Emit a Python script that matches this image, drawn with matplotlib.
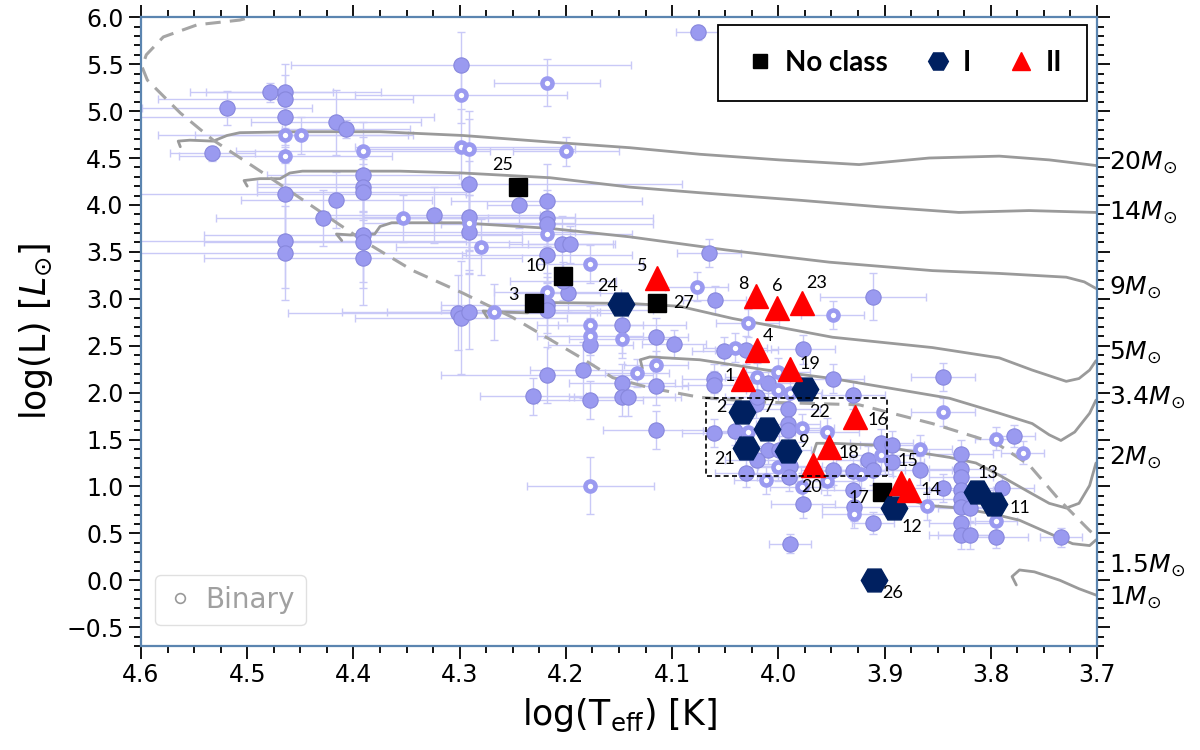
import matplotlib
matplotlib.use("Agg")
import matplotlib.pyplot as plt
from matplotlib.lines import Line2D
from matplotlib.patches import Rectangle
from matplotlib.ticker import MultipleLocator
import numpy as np

# ---------------- data ----------------
# background sample: filled circles (logTeff, logL, xerr, yerr)
single_logT = [4.299, 4.479, 4.464, 4.464, 4.519, 4.464, 4.416, 4.407, 4.533, 4.391,
               4.391, 4.391, 4.464, 4.416, 4.291, 4.244, 4.218, 4.429, 4.324, 4.291,
               4.291, 4.218, 4.218, 4.464, 4.464, 4.391, 4.391, 4.391, 4.204, 4.196,
               4.218, 4.198, 4.203, 4.302, 4.299, 4.291, 4.218, 4.218, 4.147, 4.177,
               4.218, 4.184, 4.231, 4.177, 4.147, 4.147, 4.142, 4.076, 4.065, 4.060,
               3.911, 4.115, 4.098, 4.051, 4.030, 3.977, 4.115, 4.061, 4.061, 4.010,
               3.949, 3.845, 4.115, 4.061, 4.041, 4.021, 4.020, 3.991, 3.991, 3.991,
               3.930, 4.010, 3.999, 4.020, 4.030, 3.989, 3.990, 3.949, 3.916, 3.903,
               3.893, 3.911, 3.930, 3.893, 3.867, 3.828, 3.828, 3.828, 3.845, 3.828,
               3.828, 3.828, 3.820, 3.778, 3.789, 3.795, 3.828, 3.828, 3.820, 3.734,
               3.930, 3.929, 3.911, 3.977, 3.989]
single_logL = [5.49, 5.20, 5.20, 5.13, 5.03, 4.94, 4.88, 4.81, 4.55, 4.32,
               4.19, 4.14, 4.12, 4.05, 4.22, 4.00, 4.04, 3.86, 3.89, 3.87,
               3.71, 3.86, 3.80, 3.62, 3.49, 3.68, 3.61, 3.43, 3.58, 3.58,
               3.47, 3.06, 3.19, 2.85, 2.80, 2.86, 2.93, 2.88, 2.72, 2.51,
               2.19, 2.24, 1.96, 1.92, 2.10, 1.95, 1.95, 5.84, 3.49, 2.99,
               3.02, 2.59, 2.52, 2.44, 2.45, 2.46, 2.07, 2.15, 2.08, 2.10,
               2.15, 2.17, 1.60, 1.57, 1.59, 1.88, 1.95, 1.82, 1.67, 1.60,
               1.97, 1.39, 1.39, 1.28, 1.14, 1.22, 1.10, 1.17, 1.28, 1.46,
               1.44, 1.17, 1.16, 1.26, 1.17, 1.35, 1.19, 1.10, 0.98, 0.96,
               0.87, 0.78, 0.77, 1.54, 0.98, 0.46, 0.61, 0.48, 0.48, 0.46,
               0.96, 0.78, 0.61, 0.81, 0.39]
single_xerr = [.16, .06, .09, .12, .08, .14, .08, .06, .04, .09,
               .10, .10, .17, .09, .20, .03, .09, .10, .10, .10,
               .10, .10, .10, .17, .17, .15, .15, .15, .05, .04,
               .08, .05, .05, .16, .10, .12, .10, .10, .06, .04,
               .10, .05, .05, .05, .05, .05, .05, .02, .03, .03,
               .05, .03, .03, .03, .03, .03, .03, .03, .03, .03,
               .03, .03, .05, .03, .03, .03, .03, .03, .03, .03,
               .03, .03, .03, .03, .03, .03, .03, .03, .03, .03,
               .03, .03, .03, .03, .03, .03, .03, .03, .03, .03,
               .03, .03, .03, .02, .03, .03, .03, .03, .03, .02,
               .03, .03, .02, .03, .02]
single_yerr = [.35, .10, .30, .25, .18, .30, .35, .10, .08, .40,
               .30, .30, .50, .30, .70, .25, .40, .30, .30, .60,
               .40, .30, .30, .50, .50, .50, .50, .50, .30, .20,
               .30, .20, .20, .40, .60, .40, .30, .30, .30, .20,
               .30, .30, .20, .20, .20, .20, .20, .08, .15, .15,
               .25, .20, .15, .15, .15, .15, .20, .15, .15, .15,
               .15, .15, .20, .15, .15, .15, .15, .15, .15, .15,
               .15, .15, .15, .15, .15, .15, .15, .15, .15, .15,
               .15, .15, .15, .15, .15, .15, .15, .15, .15, .15,
               .15, .15, .15, .12, .15, .12, .15, .15, .15, .10,
               .15, .15, .12, .15, .10]

# binaries: ring markers
binary_logT = [4.218, 4.299, 4.464, 4.449, 4.464, 4.391, 4.299, 4.291, 4.200, 4.353,
               4.291, 4.218, 4.280, 4.177, 4.218, 4.268, 4.177, 4.177, 4.147, 4.177,
               4.077, 4.115, 4.133, 3.949, 4.029, 4.041, 4.020, 4.000, 4.000, 3.989,
               3.845, 4.029, 3.978, 3.954, 4.000, 4.012, 3.954, 3.903, 3.922, 3.867,
               3.860, 3.795, 3.770, 3.795, 3.929, 3.978]
binary_logL = [5.30, 5.17, 4.75, 4.74, 4.52, 4.58, 4.62, 4.60, 4.57, 3.86,
               3.81, 3.69, 3.55, 3.37, 3.07, 2.86, 2.72, 2.60, 2.57, 1.01,
               3.13, 2.29, 2.21, 2.83, 2.74, 2.48, 2.17, 2.22, 2.03, 2.00,
               1.79, 1.58, 1.62, 1.58, 1.21, 1.07, 1.06, 1.33, 1.13, 1.40,
               0.79, 1.51, 1.36, 0.63, 0.71, 0.99]
binary_xerr = [.05, .10, .12, .10, .10, .12, .10, .10, .05, .08,
               .10, .08, .08, .05, .05, .10, .05, .05, .05, .06,
               .03, .03, .03, .03, .03, .03, .03, .03, .03, .03,
               .03, .03, .03, .03, .03, .03, .03, .03, .03, .03,
               .03, .02, .02, .02, .03, .03]
binary_yerr = [.25, .30, .30, .20, .30, .30, .40, .40, .15, .25,
               .30, .30, .30, .20, .20, .30, .20, .20, .20, .30,
               .15, .15, .15, .15, .15, .15, .15, .15, .15, .15,
               .15, .15, .15, .15, .15, .15, .15, .15, .15, .15,
               .15, .12, .12, .12, .15, .15]

# classified objects
noclass_id = [25, 10, 3, 27, 17]
noclass_logT = [4.245, 4.203, 4.230, 4.114, 3.902]
noclass_logL = [4.19, 3.24, 2.96, 2.96, 0.94]

classI_id = [24, 22, 2, 7, 21, 9, 12, 13, 11, 26]
classI_logT = [4.148, 3.975, 4.034, 4.011, 4.030, 3.991, 3.891, 3.813, 3.797, 3.910]
classI_logL = [2.94, 2.04, 1.79, 1.61, 1.41, 1.38, 0.77, 0.94, 0.81, 0.00]

classII_id = [5, 8, 6, 23, 4, 1, 19, 16, 18, 20, 15, 14]
classII_logT = [4.114, 4.021, 4.001, 3.978, 4.020, 4.033, 3.989, 3.928, 3.952, 3.967, 3.885, 3.877]
classII_logL = [3.22, 3.03, 2.90, 2.95, 2.45, 2.15, 2.25, 1.74, 1.42, 1.23, 1.04, 0.96]

# evolutionary tracks (logTeff, logL)
track_20_T = [4.563, 4.565, 4.554, 4.532, 4.519, 4.507, 4.453, 4.375, 4.297, 4.215, 4.140, 4.074, 3.999, 3.924, 3.858, 3.792, 3.745, 3.701]
track_20_L = [4.62, 4.68, 4.69, 4.68, 4.74, 4.77, 4.78, 4.78, 4.74, 4.67, 4.61, 4.54, 4.48, 4.43, 4.50, 4.52, 4.48, 4.42]
track_14_T = [4.500, 4.503, 4.488, 4.469, 4.460, 4.448, 4.356, 4.297, 4.215, 4.140, 4.074, 3.980, 3.905, 3.830, 3.764, 3.701]
track_14_L = [4.20, 4.26, 4.28, 4.28, 4.34, 4.36, 4.36, 4.34, 4.29, 4.19, 4.13, 4.05, 3.98, 3.92, 3.94, 3.92]
track_9_T = [4.411, 4.416, 4.403, 4.380, 4.375, 4.364, 4.300, 4.215, 4.140, 4.049, 3.952, 3.855, 3.792, 3.729, 3.712, 3.701]
track_9_L = [3.62, 3.69, 3.68, 3.69, 3.77, 3.81, 3.81, 3.75, 3.66, 3.52, 3.39, 3.30, 3.27, 3.23, 3.18, 3.11]
track_5_T = [4.274, 4.278, 4.262, 4.236, 4.231, 4.220, 4.140, 4.093, 4.043, 3.949, 3.855, 3.792, 3.761, 3.729, 3.717, 3.707, 3.701]
track_5_L = [2.80, 2.87, 2.86, 2.85, 2.93, 2.96, 2.95, 2.92, 2.79, 2.59, 2.48, 2.37, 2.24, 2.12, 2.15, 2.24, 2.34]
track_34_T = [4.128, 4.130, 4.121, 4.074, 4.011, 3.949, 3.886, 3.839, 3.792, 3.761, 3.745, 3.734, 3.721, 3.707, 3.701]
track_34_L = [2.26, 2.35, 2.38, 2.35, 2.24, 2.15, 2.03, 1.94, 1.78, 1.67, 1.55, 1.49, 1.58, 1.78, 1.92]
track_2_T = [3.967, 3.964, 3.949, 3.908, 3.867, 3.839, 3.814, 3.792, 3.764, 3.745, 3.729, 3.717, 3.707, 3.701]
track_2_L = [1.36, 1.46, 1.46, 1.44, 1.36, 1.31, 1.25, 1.12, 0.94, 0.82, 0.77, 0.82, 1.01, 1.25]
track_15_T = [3.900, 3.879, 3.861, 3.830, 3.799, 3.773, 3.751, 3.723, 3.707, 3.701]
track_15_L = [0.85, 0.87, 0.80, 0.77, 0.71, 0.64, 0.53, 0.39, 0.37, 0.43]
track_1_T = [3.776, 3.780, 3.773, 3.759, 3.735, 3.717, 3.698]
track_1_L = [-0.05, 0.04, 0.11, 0.09, 0.00, -0.09, -0.17]

# dashed line (birthline)
dash_T = [4.480, 4.507, 4.547, 4.579, 4.595, 4.599, 4.594, 4.563, 4.532, 4.485, 4.438, 4.391,
          4.344, 4.297, 4.250, 4.187, 4.156, 4.121, 4.074, 4.018, 3.924, 3.855, 3.804, 3.792,
          3.764, 3.735, 3.707, 3.698]
dash_L = [6.05, 5.97, 5.92, 5.79, 5.60, 5.47, 5.33, 4.98, 4.69, 4.34, 3.98, 3.62,
          3.30, 3.06, 2.80, 2.38, 2.16, 2.05, 1.95, 1.90, 1.87, 1.67, 1.49, 1.44,
          1.23, 0.85, 0.53, 0.44]

track_labels = ["20$M_{\\odot}$", "14$M_{\\odot}$", "9$M_{\\odot}$", "5$M_{\\odot}$",
                "3.4$M_{\\odot}$", "2$M_{\\odot}$", "1.5$M_{\\odot}$", "1$M_{\\odot}$"]
track_label_L = [4.45, 3.92, 3.12, 2.43, 1.95, 1.31, 0.16, -0.19]

box_T = [4.068, 3.898]
box_L = [1.11, 1.94]

# label offsets in pixels (layout only)
label_offsets = {25: (-15, 22), 10: (-27, 10), 3: (-21, 8), 27: (26, 0), 17: (-24, -6),
                 24: (-14, 18), 22: (15, -23), 2: (-21, 5), 7: (3, 22), 21: (-22, -11),
                 9: (16, 9), 12: (18, -19), 13: (11, 19), 11: (26, -4), 26: (19, -13),
                 5: (-15, 12), 8: (-13, 12), 6: (0, 22), 23: (15, 20), 4: (11, 14),
                 1: (-14, 3), 19: (20, 5), 16: (23, -3), 18: (20, -6), 20: (-2, -22),
                 15: (7, 22), 14: (22, 0)}

# ---------------- styles ----------------
LAV = "#9a9af0"
LAV_EDGE = "#8787dc"
ERRC = "#c9c9f7"
NAVY = "#002060"
RED = "#ff0000"
SPINE = "#5b85b0"
TRACK = "#9a9a9a"

fig = plt.figure(figsize=(12, 7.5), dpi=100)
ax = fig.add_axes([0.1175, 0.1387, 0.9142 - 0.1175, 0.977 - 0.1387])

# error bars
ax.errorbar(single_logT, single_logL, xerr=single_xerr, yerr=single_yerr, fmt="none",
            ecolor=ERRC, elinewidth=1.0, capsize=3, capthick=1.0, zorder=1)
ax.errorbar(binary_logT, binary_logL, xerr=binary_xerr, yerr=binary_yerr, fmt="none",
            ecolor=ERRC, elinewidth=1.0, capsize=3, capthick=1.0, zorder=1)

# tracks
for tT, tL in [(track_20_T, track_20_L), (track_14_T, track_14_L), (track_9_T, track_9_L),
               (track_5_T, track_5_L), (track_34_T, track_34_L), (track_2_T, track_2_L),
               (track_15_T, track_15_L), (track_1_T, track_1_L)]:
    ax.plot(tT, tL, color=TRACK, lw=2.0, solid_capstyle="round", solid_joinstyle="round", zorder=2)
ax.plot(dash_T, dash_L, color="#a5a5a5", lw=2.2, dashes=(5, 3), zorder=2)

# background points
ax.plot(single_logT, single_logL, "o", ms=11, mfc=LAV, mec=LAV_EDGE, mew=0.8, zorder=3)
ax.plot(binary_logT, binary_logL, "o", ms=7.2, mfc="white", mec=LAV, mew=3.3, zorder=3)

# dashed box
ax.add_patch(Rectangle((box_T[1], box_L[0]), box_T[0] - box_T[1], box_L[1] - box_L[0],
                       fill=False, ls=(0, (3, 2)), lw=1.2, ec="black", zorder=6))

# classified objects
h_nc, = ax.plot(noclass_logT, noclass_logL, "s", ms=13, color="black", ls="none", zorder=5)
h_I, = ax.plot(classI_logT, classI_logL, "H", ms=19, color=NAVY, ls="none", zorder=5)
h_II, = ax.plot(classII_logT, classII_logL, "^", ms=17, color=RED, ls="none", zorder=5)

for ids, xs, ys in [(noclass_id, noclass_logT, noclass_logL),
                    (classI_id, classI_logT, classI_logL),
                    (classII_id, classII_logT, classII_logL)]:
    for i, x, y in zip(ids, xs, ys):
        dx, dy = label_offsets[i]
        ax.annotate(str(i), (x, y), xytext=(dx, dy), textcoords="offset pixels",
                    ha="center", va="center", fontsize=13, family="Lato", zorder=7)

# axes
ax.set_xlim(4.6, 3.7)
ax.set_ylim(-0.7, 6.0)
ax.xaxis.set_major_locator(MultipleLocator(0.1))
ax.xaxis.set_minor_locator(MultipleLocator(0.025))
ax.yaxis.set_major_locator(MultipleLocator(0.5))
ax.yaxis.set_minor_locator(MultipleLocator(0.1))
ax.tick_params(which="both", direction="out", top=True, right=True, labelsize=17, width=1.3)
ax.tick_params(which="major", length=9)
ax.tick_params(which="minor", length=5)
ax.tick_params(labelright=False, labeltop=False)
for s in ax.spines.values():
    s.set_color(SPINE)
    s.set_linewidth(1.6)

ax.set_xlabel("log(T$_{\\mathrm{eff}}$) [K]", fontsize=25, labelpad=6)
ax.set_ylabel("log(L) [$L_{\\odot}$]", fontsize=25, labelpad=8)

for lab, yl in zip(track_labels, track_label_L):
    ax.text(1.012, yl, lab, transform=ax.get_yaxis_transform(), ha="left", va="center",
            fontsize=18, clip_on=False)

# legends
leg1 = ax.legend([h_nc, h_I, h_II], ["No class", "I", "II"], ncol=3, loc="upper right",
                 bbox_to_anchor=(0.99, 0.988), borderaxespad=0, fancybox=False,
                 edgecolor="black", framealpha=1, borderpad=0.9, handletextpad=0.3,
                 columnspacing=1.2, handlelength=1.2, markerscale=0.75,
                 prop={"family": "Lato", "weight": "bold", "size": 20})
leg1.get_frame().set_linewidth(1.3)
ax.add_artist(leg1)

bin_handle = Line2D([], [], marker="o", ls="none", mfc="none", mec="#999999", mew=1.2, ms=7)
leg2 = ax.legend([bin_handle], ["Binary"], loc="lower left", bbox_to_anchor=(0.015, 0.033),
                 borderaxespad=0, fancybox=True, edgecolor="0.85", framealpha=0.8,
                 prop={"size": 20}, handletextpad=0.4, handlelength=1.0)
for t in leg2.get_texts():
    t.set_color("#a0a0a0")

fig.savefig("out.png", dpi=100)
